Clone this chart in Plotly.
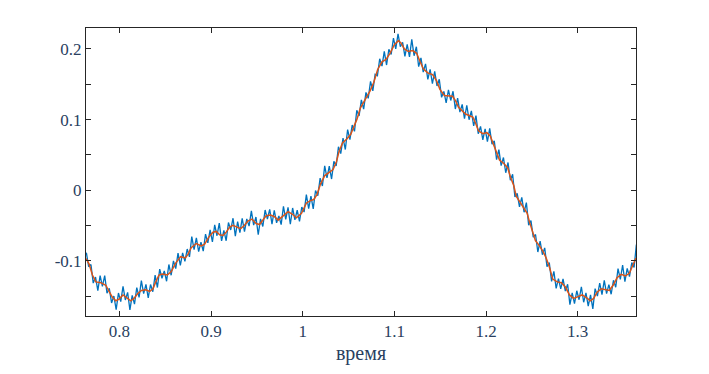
import plotly.graph_objects as go

# smooth (orange) curve
smooth_t = [0.7637, 0.7670, 0.7706, 0.7743, 0.7797, 0.7852, 0.7888, 0.7924, 0.7961, 0.7997,
            0.8040, 0.8081, 0.8124, 0.8160, 0.8196, 0.8240, 0.8288, 0.8331, 0.8367, 0.8397,
            0.8432, 0.8468, 0.8523, 0.8566, 0.8614, 0.8669, 0.8719, 0.8748, 0.8784, 0.8839,
            0.8893, 0.8930, 0.8974, 0.9021, 0.9057, 0.9094, 0.9130, 0.9166, 0.9203, 0.9239,
            0.9285, 0.9322, 0.9358, 0.9402, 0.9446, 0.9492, 0.9529, 0.9565, 0.9601, 0.9649,
            0.9693, 0.9732, 0.9776, 0.9841, 0.9889, 0.9932, 0.9987, 1.0041, 1.0085, 1.0121,
            1.0157, 1.0194, 1.0241, 1.0288, 1.0331, 1.0368, 1.0397, 1.0434, 1.0484, 1.0524,
            1.0557, 1.0593, 1.0630, 1.0677, 1.0734, 1.0775, 1.0818, 1.0865, 1.0909, 1.0952,
            1.1000, 1.1044, 1.1072, 1.1109, 1.1153, 1.1199, 1.1243, 1.1279, 1.1316, 1.1363,
            1.1417, 1.1461, 1.1497, 1.1545, 1.1592, 1.1635, 1.1671, 1.1700, 1.1777, 1.1856,
            1.1882, 1.1918, 1.1965, 1.2009, 1.2046, 1.2074, 1.2111, 1.2147, 1.2194, 1.2237,
            1.2267, 1.2303, 1.2329, 1.2365, 1.2409, 1.2449, 1.2474, 1.2510, 1.2539, 1.2583,
            1.2619, 1.2656, 1.2692, 1.2728, 1.2776, 1.2822, 1.2866, 1.2910, 1.2956, 1.3004,
            1.3048, 1.3092, 1.3138, 1.3174, 1.3211, 1.3258, 1.3302, 1.3345, 1.3386, 1.3429,
            1.3476, 1.3520, 1.3563, 1.3599, 1.3636]
smooth_v = [-0.0966, -0.1045, -0.1200, -0.1297, -0.1308, -0.1345, -0.1433, -0.1516, -0.1564, -0.1541,
            -0.1482, -0.1516, -0.1564, -0.1531, -0.1468, -0.1418, -0.1410, -0.1433, -0.1395, -0.1297,
            -0.1200, -0.1185, -0.1200, -0.1152, -0.1031, -0.0940, -0.0958, -0.0908, -0.0812, -0.0754,
            -0.0787, -0.0762, -0.0666, -0.0593, -0.0583, -0.0631, -0.0641, -0.0593, -0.0520, -0.0496,
            -0.0520, -0.0544, -0.0506, -0.0437, -0.0408, -0.0471, -0.0485, -0.0423, -0.0360, -0.0350,
            -0.0375, -0.0423, -0.0375, -0.0302, -0.0340, -0.0389, -0.0325, -0.0179, -0.0146, -0.0131,
            -0.0058, 0.0087, 0.0208, 0.0258, 0.0292, 0.0404, 0.0550, 0.0671, 0.0729, 0.0792,
            0.0899, 0.1010, 0.1166, 0.1278, 0.1404, 0.1526, 0.1710, 0.1818, 0.1851, 0.1939,
            0.2060, 0.2118, 0.2085, 0.2001, 0.1964, 0.1978, 0.1939, 0.1827, 0.1720, 0.1662,
            0.1637, 0.1550, 0.1429, 0.1341, 0.1331, 0.1331, 0.1258, 0.1176, 0.1079, 0.1035,
            0.0962, 0.0841, 0.0802, 0.0816, 0.0768, 0.0671, 0.0525, 0.0427, 0.0379, 0.0316,
            0.0185, 0.0063, -0.0083, -0.0156, -0.0238, -0.0325, -0.0448, -0.0593, -0.0714, -0.0787,
            -0.0860, -0.0958, -0.1091, -0.1258, -0.1297, -0.1308, -0.1370, -0.1482, -0.1531, -0.1506,
            -0.1482, -0.1516, -0.1564, -0.1531, -0.1443, -0.1395, -0.1410, -0.1418, -0.1345, -0.1239,
            -0.1191, -0.1214, -0.1176, -0.1079, -0.0958]

# noisy (blue) signal, sampled every 0.0025 starting at t = 0.764:
# local level read under the noise, and the deviation of each sample from it
noisy_t0 = 0.764
noisy_dt = 0.0025
noisy_level = [
    -0.0973, -0.1033, -0.1131, -0.1224, -0.1289, -0.1301, -0.1307, -0.1320, -0.1337, -0.1377,
    -0.1438, -0.1495, -0.1537, -0.1561, -0.1545, -0.1516, -0.1482, -0.1503, -0.1526, -0.1554,
    -0.1549, -0.1522, -0.1478, -0.1446, -0.1418, -0.1414, -0.1411, -0.1424, -0.1424, -0.1397,
    -0.1320, -0.1247, -0.1197, -0.1186, -0.1191, -0.1198, -0.1181, -0.1153, -0.1091, -0.1030,
    -0.0989, -0.0945, -0.0948, -0.0957, -0.0922, -0.0863, -0.0806, -0.0779, -0.0754, -0.0770,
    -0.0786, -0.0772, -0.0740, -0.0684, -0.0641, -0.0602, -0.0590, -0.0594, -0.0626, -0.0637,
    -0.0628, -0.0595, -0.0546, -0.0512, -0.0496, -0.0510, -0.0523, -0.0540, -0.0527, -0.0495,
    -0.0456, -0.0428, -0.0412, -0.0434, -0.0468, -0.0480, -0.0466, -0.0423, -0.0379, -0.0357,
    -0.0352, -0.0359, -0.0373, -0.0402, -0.0414, -0.0387, -0.0359, -0.0331, -0.0302, -0.0321,
    -0.0341, -0.0370, -0.0380, -0.0351, -0.0317, -0.0249, -0.0181, -0.0161, -0.0144, -0.0133,
    -0.0093, -0.0027, 0.0071, 0.0141, 0.0206, 0.0234, 0.0260, 0.0279, 0.0319, 0.0395,
    0.0515, 0.0609, 0.0678, 0.0707, 0.0738, 0.0778, 0.0844, 0.0924, 0.1001, 0.1103,
    0.1190, 0.1249, 0.1305, 0.1362, 0.1422, 0.1496, 0.1591, 0.1703, 0.1761, 0.1818,
    0.1837, 0.1863, 0.1915, 0.1972, 0.2035, 0.2080, 0.2113, 0.2093, 0.2044, 0.1996,
    0.1975, 0.1968, 0.1975, 0.1964, 0.1942, 0.1869, 0.1795, 0.1722, 0.1690, 0.1661,
    0.1650, 0.1638, 0.1592, 0.1537, 0.1452, 0.1396, 0.1350, 0.1337, 0.1331, 0.1331,
    0.1322, 0.1270, 0.1204, 0.1157, 0.1126, 0.1094, 0.1072, 0.1058, 0.1044, 0.1010,
    0.0937, 0.0850, 0.0823, 0.0802, 0.0810, 0.0808, 0.0776, 0.0702, 0.0608, 0.0514,
    0.0446, 0.0408, 0.0384, 0.0348, 0.0303, 0.0192, 0.0107, -0.0005, -0.0105, -0.0156,
    -0.0202, -0.0251, -0.0305, -0.0404, -0.0510, -0.0614, -0.0716, -0.0754, -0.0801, -0.0852,
    -0.0916, -0.0991, -0.1084, -0.1211, -0.1267, -0.1288, -0.1300, -0.1306, -0.1333, -0.1368,
    -0.1431, -0.1488, -0.1514, -0.1526, -0.1513, -0.1500, -0.1486, -0.1495, -0.1514, -0.1540,
    -0.1562, -0.1539, -0.1483, -0.1439, -0.1413, -0.1397, -0.1406, -0.1412, -0.1417, -0.1382,
    -0.1334, -0.1273, -0.1228, -0.1202, -0.1198, -0.1213, -0.1196, -0.1172, -0.1103, -0.1034,
    -0.0950]
noisy_dev = [
    0.009, -0.005, 0.008, -0.009, 0.006, -0.012, 0.010, -0.004, 0.013, -0.008,
    0.005, -0.010, 0.004, -0.013, 0.009, -0.006, 0.012, -0.005, 0.008, -0.014,
    0.006, -0.009, 0.010, -0.007, 0.014, -0.005, 0.008, -0.010, 0.009, -0.004,
    0.012, -0.013, 0.008, -0.006, 0.005, -0.009, 0.013, -0.005, 0.009, -0.008,
    0.010, -0.012, 0.006, -0.005, 0.009, -0.008, 0.015, -0.006, 0.008, -0.010,
    0.005, -0.009, 0.012, -0.006, 0.008, -0.013, 0.010, -0.005, 0.016, -0.008,
    0.006, -0.012, 0.009, -0.005, 0.010, -0.014, 0.008, -0.006, 0.013, -0.009,
    0.005, -0.008, 0.012, -0.006, 0.009, -0.015, 0.006, -0.009, 0.010, -0.005,
    0.008, -0.012, 0.009, -0.006, 0.005, -0.010, 0.013, -0.008, 0.006, -0.016,
    0.009, -0.005, 0.010, -0.009, 0.008, -0.006, 0.012, -0.010, 0.006, -0.013,
    0.009, -0.005, 0.010, -0.008, 0.014, -0.006, 0.008, -0.012, 0.009, -0.005,
    0.010, -0.009, 0.006, -0.013, 0.012, -0.006, 0.008, -0.009, 0.013, -0.005,
    0.009, -0.010, 0.008, -0.006, 0.012, -0.009, 0.005, -0.008, 0.010, -0.006,
    0.013, -0.009, 0.008, -0.005, 0.012, -0.008, 0.010, -0.006, 0.005, -0.010,
    0.009, -0.008, 0.016, -0.006, 0.009, -0.012, 0.008, -0.005, 0.010, -0.009,
    0.006, -0.013, 0.009, -0.006, 0.012, -0.008, 0.005, -0.010, 0.009, -0.006,
    0.008, -0.012, 0.010, -0.005, 0.009, -0.008, 0.013, -0.006, 0.008, -0.010,
    0.012, -0.005, 0.008, -0.009, 0.006, -0.012, 0.010, -0.005, 0.009, -0.008,
    0.013, -0.006, 0.008, -0.010, 0.009, -0.005, 0.012, -0.009, 0.006, -0.008,
    0.010, -0.006, 0.013, -0.009, 0.008, -0.005, 0.009, -0.012, 0.008, -0.006,
    0.010, -0.009, 0.006, -0.008, 0.012, -0.010, 0.005, -0.009, 0.008, -0.006,
    0.010, -0.013, 0.006, -0.008, 0.009, -0.005, 0.012, -0.009, 0.006, -0.010,
    0.008, -0.014, 0.009, -0.006, 0.010, -0.008, 0.013, -0.005, 0.008, -0.009,
    0.006, -0.010, 0.012, -0.006, 0.014, -0.008, 0.009, -0.005, 0.008, -0.006,
    0.018]
noisy_v = [lv + dv for lv, dv in zip(noisy_level, noisy_dev)]

x_ticks = [0.8, 0.9, 1.0, 1.1, 1.2, 1.3]
x_ticktext = ["0.8", "0.9", "1", "1.1", "1.2", "1.3"]
y_ticks = [-0.15, -0.1, -0.05, 0, 0.05, 0.1, 0.15, 0.2]
y_ticktext = ["", "-0.1", "", "0", "", "0.1", "", "0.2"]
x_title = "время"

fig = go.Figure()
fig.add_trace(go.Scatter(x0=noisy_t0, dx=noisy_dt, y=noisy_v, mode="lines",
                         line=dict(color="#0072BD", width=1.3),
                         showlegend=False, hoverinfo="skip"))
fig.add_trace(go.Scatter(x=smooth_t, y=smooth_v, mode="lines",
                         line=dict(color="#D95319", width=1.5), showlegend=False))

fig.update_layout(
    width=701, height=366,
    # the page adds an 8 px body margin, so the figure is 8 px smaller on each side
    margin=dict(l=78, r=73, t=20, b=58, autoexpand=False),
    paper_bgcolor="white", plot_bgcolor="white",
    # all texts inherit this serif font (tick labels and the axis title)
    font=dict(family="Liberation Serif", size=17),
    xaxis=dict(range=[0.7636, 1.3636], tickmode="array", tickvals=x_ticks,
               ticktext=x_ticktext,
               showline=True, linecolor="#262626", linewidth=1, mirror="ticks",
               ticks="inside", ticklen=5, tickcolor="#262626", tickwidth=1,
               showgrid=False, zeroline=False,
               title=dict(text=x_title, standoff=5)),
    yaxis=dict(range=[-0.178, 0.2297], tickmode="array", tickvals=y_ticks,
               ticktext=y_ticktext,
               showline=True, linecolor="#262626", linewidth=1, mirror="ticks",
               ticks="inside", ticklen=5, tickcolor="#262626", tickwidth=1,
               showgrid=False, zeroline=False),
)

fig.write_html("out.html")
